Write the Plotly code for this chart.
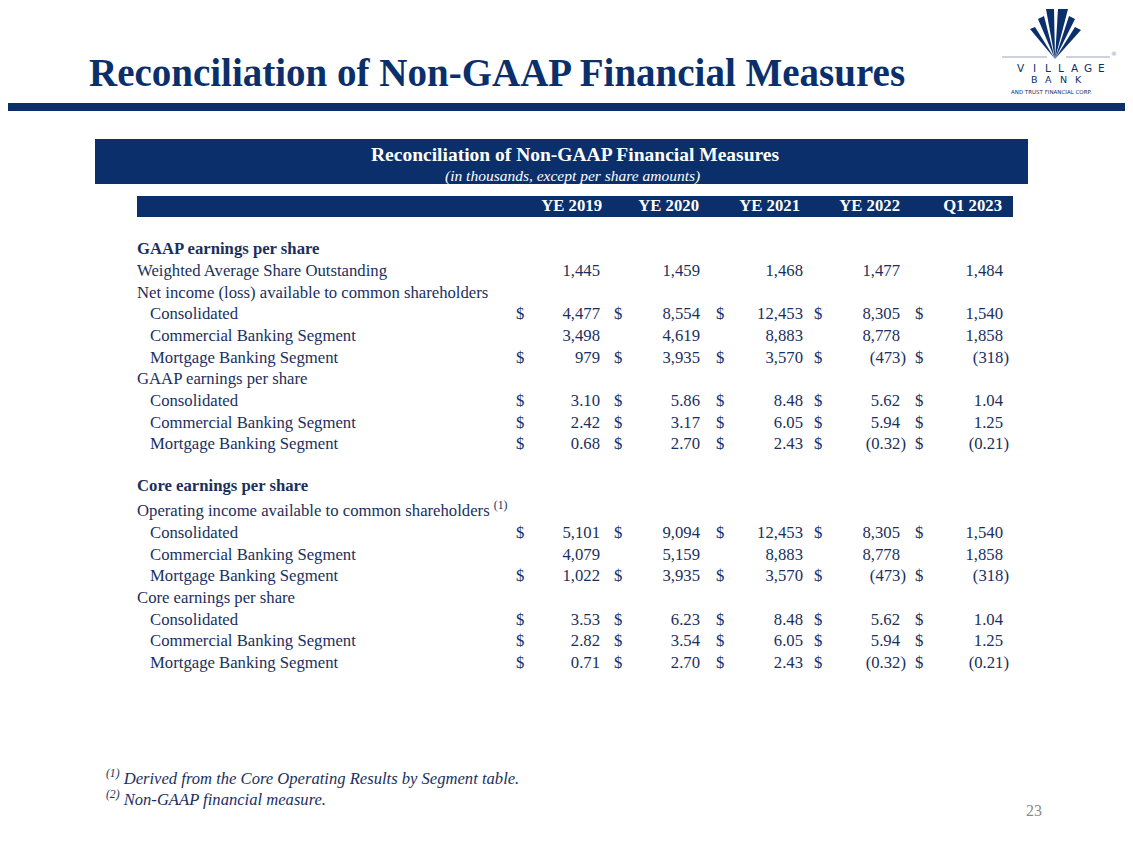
import plotly.graph_objects as go

# ---------------- data ----------------
years = ["YE 2019", "YE 2020", "YE 2021", "YE 2022", "Q1 2023"]

shares = [1445, 1459, 1468, 1477, 1484]
net_income_consolidated = [4477, 8554, 12453, 8305, 1540]
net_income_commercial = [3498, 4619, 8883, 8778, 1858]
net_income_mortgage = [979, 3935, 3570, -473, -318]
gaap_eps_consolidated = [3.10, 5.86, 8.48, 5.62, 1.04]
gaap_eps_commercial = [2.42, 3.17, 6.05, 5.94, 1.25]
gaap_eps_mortgage = [0.68, 2.70, 2.43, -0.32, -0.21]
core_income_consolidated = [5101, 9094, 12453, 8305, 1540]
core_income_commercial = [4079, 5159, 8883, 8778, 1858]
core_income_mortgage = [1022, 3935, 3570, -473, -318]
core_eps_consolidated = [3.53, 6.23, 8.48, 5.62, 1.04]
core_eps_commercial = [2.82, 3.54, 6.05, 5.94, 1.25]
core_eps_mortgage = [0.71, 2.70, 2.43, -0.32, -0.21]

# (label, values, decimals, dollar sign, indent, bold)
rows = [
    ("GAAP earnings per share", None, 0, False, False, True),
    ("Weighted Average Share Outstanding", shares, 0, False, False, False),
    ("Net income (loss) available to common shareholders", None, 0, False, False, False),
    ("Consolidated", net_income_consolidated, 0, True, True, False),
    ("Commercial Banking Segment", net_income_commercial, 0, False, True, False),
    ("Mortgage Banking Segment", net_income_mortgage, 0, True, True, False),
    ("GAAP earnings per share", None, 0, False, False, False),
    ("Consolidated", gaap_eps_consolidated, 2, True, True, False),
    ("Commercial Banking Segment", gaap_eps_commercial, 2, True, True, False),
    ("Mortgage Banking Segment", gaap_eps_mortgage, 2, True, True, False),
    ("Core earnings per share", None, 0, False, False, True),
    ("Operating income available to common shareholders <sup>(1)</sup>", None, 0, False, False, False),
    ("Consolidated", core_income_consolidated, 0, True, True, False),
    ("Commercial Banking Segment", core_income_commercial, 0, False, True, False),
    ("Mortgage Banking Segment", core_income_mortgage, 0, True, True, False),
    ("Core earnings per share", None, 0, False, False, False),
    ("Consolidated", core_eps_consolidated, 2, True, True, False),
    ("Commercial Banking Segment", core_eps_commercial, 2, True, True, False),
    ("Mortgage Banking Segment", core_eps_mortgage, 2, True, True, False),
]

footnotes = [
    "<sup>(1)</sup> Derived from the Core Operating Results by Segment table.",
    "<sup>(2)</sup> Non-GAAP financial measure.",
]

logo_word = "VILLAGE"
logo_word2 = "BANK"
logo_tag = "AND TRUST FINANCIAL CORP."

# ---------------- layout constants ----------------
W, H = 1133, 849
OFF = 8  # page body margin
NAVY = "#0B2F6B"
TEXT = "#1A2F5E"
SERIF = "Liberation Serif, Times New Roman, serif"
FS = 16.7

num_right = [600, 700, 803, 900, 1003]
dollar_left = [516, 614, 716, 814, 915]
hdr_right = [602, 699, 800, 900, 1002]


def row_y(i):
    if i <= 9:
        return 250 + i * 21.7
    if i == 10:
        return 487
    return 512 + (i - 11) * 21.7


def fmt(v, d):
    s = f"{abs(v):,.{d}f}"
    return f"({s})" if v < 0 else s


fig = go.Figure()

# labels
lab_x, lab_y, lab_t = [], [], []
for i, (label, vals, d, dol, indent, bold) in enumerate(rows):
    lab_x.append(150 if indent else 137)
    lab_y.append(row_y(i))
    lab_t.append(f"<b>{label}</b>" if bold else label)
fig.add_trace(go.Scatter(x=lab_x, y=lab_y, text=lab_t, mode="text",
                         textposition="middle right",
                         textfont=dict(family=SERIF, size=FS, color=TEXT),
                         hoverinfo="skip", showlegend=False))

# numbers
px_, py_, pt_ = [], [], []
dx_, dy_ = [], []
for i, (label, vals, d, dol, indent, bold) in enumerate(rows):
    if vals is None:
        continue
    y = row_y(i)
    for c, v in enumerate(vals):
        px_.append(num_right[c] + (6 if v < 0 else 0))
        py_.append(y)
        pt_.append(fmt(v, d))
        if dol:
            dx_.append(dollar_left[c]); dy_.append(y)
fig.add_trace(go.Scatter(x=px_, y=py_, text=pt_, mode="text",
                         textposition="middle left",
                         textfont=dict(family=SERIF, size=FS, color=TEXT),
                         hoverinfo="skip", showlegend=False))
fig.add_trace(go.Scatter(x=dx_, y=dy_, text=["$"] * len(dx_), mode="text",
                         textposition="middle right",
                         textfont=dict(family=SERIF, size=FS, color=TEXT),
                         hoverinfo="skip", showlegend=False))

# column headers
fig.add_trace(go.Scatter(x=hdr_right, y=[207] * len(years),
                         text=[f"<b>{y}</b>" for y in years], mode="text",
                         textposition="middle left",
                         textfont=dict(family=SERIF, size=FS, color="white"),
                         hoverinfo="skip", showlegend=False))

shapes = [
    dict(type="rect", x0=0, x1=W, y0=103, y1=111, fillcolor=NAVY, line_width=0, layer="below"),
    dict(type="rect", x0=95, x1=1028, y0=139, y1=184, fillcolor=NAVY, line_width=0, layer="below"),
    dict(type="rect", x0=137, x1=1013, y0=196, y1=217, fillcolor=NAVY, line_width=0, layer="below"),
    dict(type="line", x0=1002, x1=1047, y0=57, y1=57, line=dict(color="#9AA3B5", width=1)),
    dict(type="line", x0=1066, x1=1110, y0=57, y1=57, line=dict(color="#9AA3B5", width=1)),
]
apex = (1055, 59)
wedges = [((1030, 29), (1035, 27)), ((1038, 19), (1044, 16)), ((1046, 9), (1054, 9)),
          ((1058, 9), (1068, 9)), ((1069, 16), (1075, 19)), ((1075, 27), (1081, 30))]
for (a, b) in wedges:
    shapes.append(dict(type="path",
                       path=f"M {a[0]} {a[1]} L {b[0]} {b[1]} L {apex[0]} {apex[1]} Z",
                       fillcolor=NAVY, line_width=0))

annotations = [
    dict(x=87, y=72, text="<b>Reconciliation of Non-GAAP Financial Measures</b>",
         showarrow=False, xanchor="left", yanchor="middle",
         font=dict(family=SERIF, size=39, color=NAVY)),
    dict(x=575, y=154, text="<b>Reconciliation of Non-GAAP Financial Measures</b>",
         showarrow=False, xanchor="center", yanchor="middle",
         font=dict(family=SERIF, size=19.5, color="white")),
    dict(x=572, y=176, text="<i>(in thousands, except per share amounts)</i>",
         showarrow=False, xanchor="center", yanchor="middle",
         font=dict(family=SERIF, size=15.5, color="white")),
    dict(x=1044, y=810, text="23", showarrow=False, xanchor="right", yanchor="middle",
         font=dict(family=SERIF, size=16, color="#8A8A8A")),
    dict(x=1051, y=92, text=logo_tag, showarrow=False, xanchor="center",
         yanchor="middle", font=dict(family="DejaVu Sans", size=5.5, color=NAVY)),
    dict(x=1114, y=53, text="®", showarrow=False, xanchor="center", yanchor="middle",
         font=dict(family="DejaVu Sans", size=6, color="#8C96AA")),
]
for k, ch in enumerate(logo_word):
    annotations.append(dict(x=1021 + k * 13.4, y=67.5, text=ch, showarrow=False,
                            xanchor="center", yanchor="middle",
                            font=dict(family="DejaVu Sans", size=10.5, color=NAVY)))
for k, ch in enumerate(logo_word2):
    annotations.append(dict(x=1034 + k * 14.8, y=79, text=ch, showarrow=False,
                            xanchor="center", yanchor="middle",
                            font=dict(family="DejaVu Sans", size=9.5, color=NAVY)))
for k, fn in enumerate(footnotes):
    annotations.append(dict(x=104, y=777 + k * 21, text=f"<i>{fn}</i>", showarrow=False,
                            xanchor="left", yanchor="middle",
                            font=dict(family=SERIF, size=16.6, color=TEXT)))

fig.update_layout(
    width=W - OFF, height=H - OFF, margin=dict(l=0, r=0, t=0, b=0, pad=0),
    paper_bgcolor="white", plot_bgcolor="white",
    xaxis=dict(range=[OFF, W], visible=False, fixedrange=True),
    yaxis=dict(range=[H, OFF], visible=False, fixedrange=True),
    shapes=shapes, annotations=annotations,
)

fig.write_html("out.html")
